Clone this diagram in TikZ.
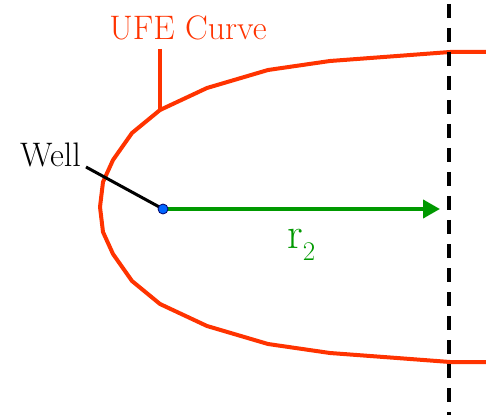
\documentclass[tikz,border=0pt]{standalone}
\usetikzlibrary{arrows.meta}
\definecolor{ufeorange}{RGB}{255,51,0}
\definecolor{radgreen}{RGB}{0,153,0}
\definecolor{wellblue}{RGB}{0,102,255}

\begin{document}
\begin{tikzpicture}[x=1pt,y=1pt,
  ufe/.style={draw=ufeorange,line width=4pt,line join=round},
  lead/.style={line width=3pt},
  lbl/.style={inner sep=0pt,font=\fontsize{34}{40}\selectfont},
  rad/.style={draw=radgreen,line width=4pt,-{Triangle[length=17pt,width=18pt]}},
  bound/.style={line width=4pt,dash pattern=on 14pt off 10pt,dash phase=20pt}]
\useasboundingbox (0,0) rectangle (486,415);
% UFE curve, symmetric about the well axis
\draw[ufe] (486,363) -- (450,363) -- (397,359) -- (330,354) -- (268,345) -- (207,327)
  -- (160,305) coordinate (ufetip) -- (132,282) -- (113,255) -- (103,233) -- (100,208)
  -- (103,183) -- (113,161) -- (132,134) -- (160,111) -- (207,89) -- (268,71)
  -- (330,62) -- (397,57) -- (450,53) -- (486,53);
% Curve label
\node[lbl,text=ufeorange,anchor=base,font=\fontsize{34}{40}\selectfont] (ufelbl) at (188,375) {UFE Curve};
\coordinate (ufetop) at (160,366);
\draw[ufeorange,line width=4pt] (ufetop) -- (ufetip);
% Well and radius
\coordinate (wellc) at (163,206);
\node[lbl,anchor=base east] (welllbl) at (81,248) {Well};
\coordinate (welltail) at (86,248);
\draw[lead] (welltail) -- (wellc);
\coordinate (r2end) at (440,206);
\draw[rad] (wellc) -- (r2end);
\node[circle,fill=wellblue,draw=black!60!blue,line width=0.8pt,inner sep=0pt,minimum size=10pt] (well) at (wellc) {};
\node[lbl,text=radgreen,anchor=base west,font=\fontsize{44}{50}\selectfont] (r2lbl) at (287,167) {r\raisebox{-12pt}{\fontsize{27}{30}\selectfont 2}};
% Boundary
\draw[bound] (449,415) -- (449,0);
\end{tikzpicture}
\end{document}
